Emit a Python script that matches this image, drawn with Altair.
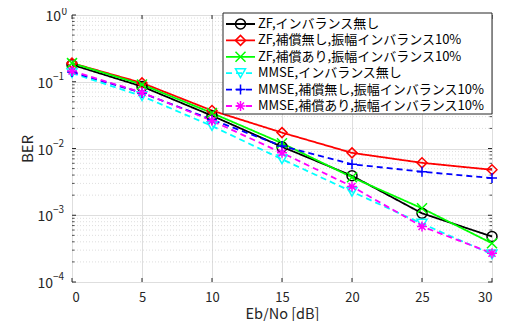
import altair as alt
import pandas as pd

ebno = [0, 5, 10, 15, 20, 25, 30]
series_names = [
    "ZF,インバランス無し",
    "ZF,補償無し,振幅インバランス10%",
    "ZF,補償あり,振幅インバランス10%",
    "MMSE,インバランス無し",
    "MMSE,補償無し,振幅インバランス10%",
    "MMSE,補償あり,振幅インバランス10%",
]
ber_zf_ideal = [0.18, 0.085, 0.031, 0.0106, 0.0039, 0.00107, 0.00048]
ber_zf_nocomp = [0.19, 0.096, 0.037, 0.0173, 0.0086, 0.0061, 0.0048]
ber_zf_comp = [0.19, 0.091, 0.034, 0.0120, 0.0037, 0.00127, 0.00038]
ber_mmse_ideal = [0.135, 0.061, 0.0217, 0.0069, 0.00225, 0.00075, 0.00026]
ber_mmse_nocomp = [0.14, 0.068, 0.027, 0.0109, 0.0058, 0.0045, 0.0036]
ber_mmse_comp = [0.145, 0.069, 0.026, 0.0086, 0.0027, 0.00068, 0.00027]

colors = ["#000000", "#ff0000", "#00ff00", "#00ffff", "#0000ff", "#ff00ff"]
shapes = [
    "circle",
    "diamond",
    "M-1,-1L1,1M-1,1L1,-1",
    "triangle-down",
    "M-1,0L1,0M0,-1L0,1",
    "M-1,0L1,0M0,-1L0,1M-0.7,-0.7L0.7,0.7M-0.7,0.7L0.7,-0.7",
]
dashes = [[1, 0], [1, 0], [1, 0], [6, 4], [6, 4], [6, 4]]

y_major = [1e-4, 1e-3, 1e-2, 1e-1, 1]
y_exponents = ["−4", "−3", "−2", "−1", "0"]
y_minor = [m * 10.0 ** d for d in (-4, -3, -2, -1) for m in range(2, 10)]
x_ticks = [0, 5, 10, 15, 20, 25, 30]

all_series = [ber_zf_ideal, ber_zf_nocomp, ber_zf_comp,
              ber_mmse_ideal, ber_mmse_nocomp, ber_mmse_comp]
rows = []
for i, (name, vals) in enumerate(zip(series_names, all_series)):
    for x, v in zip(ebno, vals):
        rows.append({"series": name, "order": i, "x": x, "ber": v})
df = pd.DataFrame(rows)
leg_df = pd.DataFrame({"series": series_names, "i": list(range(len(series_names)))})
minor_df = pd.DataFrame({"v": y_minor})
major_df = pd.DataFrame({"v": y_major, "e": y_exponents})
xt_df = pd.DataFrame({"x": x_ticks})

FONT = "Noto Sans CJK JP"
AX = "#262626"
W, H = 420, 267

xscale = alt.Scale(domain=[0, 30], nice=False)
yscale = alt.Scale(type="log", domain=[1e-4, 1], nice=False)
color = alt.Color("series:N", scale=alt.Scale(domain=series_names, range=colors), legend=None)
shape = alt.Shape("series:N", scale=alt.Scale(domain=series_names, range=shapes), legend=None)
dash = alt.StrokeDash("series:N", scale=alt.Scale(domain=series_names, range=dashes), legend=None)

yaxis = alt.Axis(values=y_major, labels=False, title="BER", grid=True,
                 gridColor="#dedede", ticks=False, titlePadding=37,
                 titleFontSize=15, titleFont=FONT, titleColor=AX,
                 titleFontWeight="normal", domain=False)
xaxis = alt.Axis(values=x_ticks, title="Eb/No [dB]", grid=True, gridColor="#dedede",
                 ticks=False, labelPadding=9, titlePadding=3, labelFontSize=13,
                 titleFontSize=14.5, labelFont=FONT, titleFont=FONT, labelColor=AX,
                 titleColor=AX, titleFontWeight="normal", domain=False)

minor = alt.Chart(minor_df).mark_rule(color="#c8c8c8", strokeWidth=0.6, strokeDash=[1, 2]).encode(
    y=alt.Y("v:Q", scale=yscale, axis=yaxis)
)

# inward ticks (box style)
tick_col = AX
xt_bot = alt.Chart(xt_df).mark_rule(color=tick_col, strokeWidth=1).encode(
    x=alt.X("x:Q", scale=xscale), y=alt.value(H), y2=alt.value(H - 4))
xt_top = alt.Chart(xt_df).mark_rule(color=tick_col, strokeWidth=1).encode(
    x=alt.X("x:Q", scale=xscale), y=alt.value(0), y2=alt.value(4))
yt_l = alt.Chart(major_df).mark_rule(color=tick_col, strokeWidth=1).encode(
    y=alt.Y("v:Q", scale=yscale), x=alt.value(0), x2=alt.value(4))
yt_r = alt.Chart(major_df).mark_rule(color=tick_col, strokeWidth=1).encode(
    y=alt.Y("v:Q", scale=yscale), x=alt.value(W - 4), x2=alt.value(W))
ym_l = alt.Chart(minor_df).mark_rule(color=tick_col, strokeWidth=0.8).encode(
    y=alt.Y("v:Q", scale=yscale), x=alt.value(0), x2=alt.value(2.5))
ym_r = alt.Chart(minor_df).mark_rule(color=tick_col, strokeWidth=0.8).encode(
    y=alt.Y("v:Q", scale=yscale), x=alt.value(W - 2.5), x2=alt.value(W))

# y tick labels: "10" with superscript exponent
ylab = alt.Chart(major_df).transform_calculate(
    w="datum.e == '0' ? 3 : 11"
)
ylab_base = ylab.mark_text(align="right", baseline="middle", font=FONT, fontSize=14,
                           color=AX, dy=2).encode(
    y=alt.Y("v:Q", scale=yscale),
    x=alt.X("xx:Q", scale=None),
    text=alt.value("10"),
).transform_calculate(xx="-8 - datum.w")
ylab_exp = ylab.mark_text(align="right", baseline="middle", font=FONT, fontSize=10,
                          color=AX, dy=-5).encode(
    y=alt.Y("v:Q", scale=yscale),
    x=alt.value(-8),
    text="e:N",
).transform_filter("datum.e != '0'")
ylab_exp0 = ylab.mark_text(align="right", baseline="middle", font=FONT, fontSize=10,
                           color=AX, dy=-3).encode(
    y=alt.Y("v:Q", scale=yscale),
    x=alt.value(-5),
    text="e:N",
).transform_filter("datum.e == '0'")

base = alt.Chart(df)
lines = base.mark_line(strokeWidth=1.8).encode(
    x=alt.X("x:Q", scale=xscale, axis=xaxis),
    y=alt.Y("ber:Q", scale=yscale, axis=yaxis),
    color=color,
    strokeDash=dash,
    detail="series:N",
    order="x:Q",
)
points = base.mark_point(filled=False, size=100, strokeWidth=1.5, opacity=1).encode(
    x=alt.X("x:Q", scale=xscale, axis=xaxis),
    y=alt.Y("ber:Q", scale=yscale, axis=yaxis),
    color=color,
    shape=shape,
)

leg_box = alt.Chart(leg_df).mark_rect(fill="white", stroke=AX, strokeWidth=1).encode(
    x=alt.value(151), x2=alt.value(420), y=alt.value(-2), y2=alt.value(99)
).transform_filter("datum.i == 0")
leg_base = alt.Chart(leg_df).transform_calculate(py="9 + datum.i * 16.4")
leg_lines = leg_base.mark_rule(strokeWidth=1.8).encode(
    x=alt.value(154), x2=alt.value(183),
    y=alt.Y("py:Q", scale=None),
    color=color, strokeDash=dash,
)
leg_pts = leg_base.mark_point(filled=False, size=100, strokeWidth=1.5, opacity=1).encode(
    x=alt.value(168.5),
    y=alt.Y("py:Q", scale=None),
    color=color, shape=shape,
)
leg_text = leg_base.mark_text(align="left", baseline="middle", font=FONT, fontSize=13,
                              color="#000000").encode(
    x=alt.value(186),
    y=alt.Y("py:Q", scale=None),
    text="series:N",
)

chart = alt.layer(minor, xt_bot, xt_top, yt_l, yt_r, ym_l, ym_r, lines, points,
                  ylab_base, ylab_exp, ylab_exp0,
                  leg_box, leg_lines, leg_pts, leg_text).properties(
    width=W, height=H,
    autosize=alt.AutoSizeParams(type="none"),
    padding={"left": 64, "top": 7, "right": 6, "bottom": 39},
    background="white",
).configure_view(stroke=AX, strokeWidth=1)

chart.save("out.html", embed_options={"renderer": "svg", "actions": False})
